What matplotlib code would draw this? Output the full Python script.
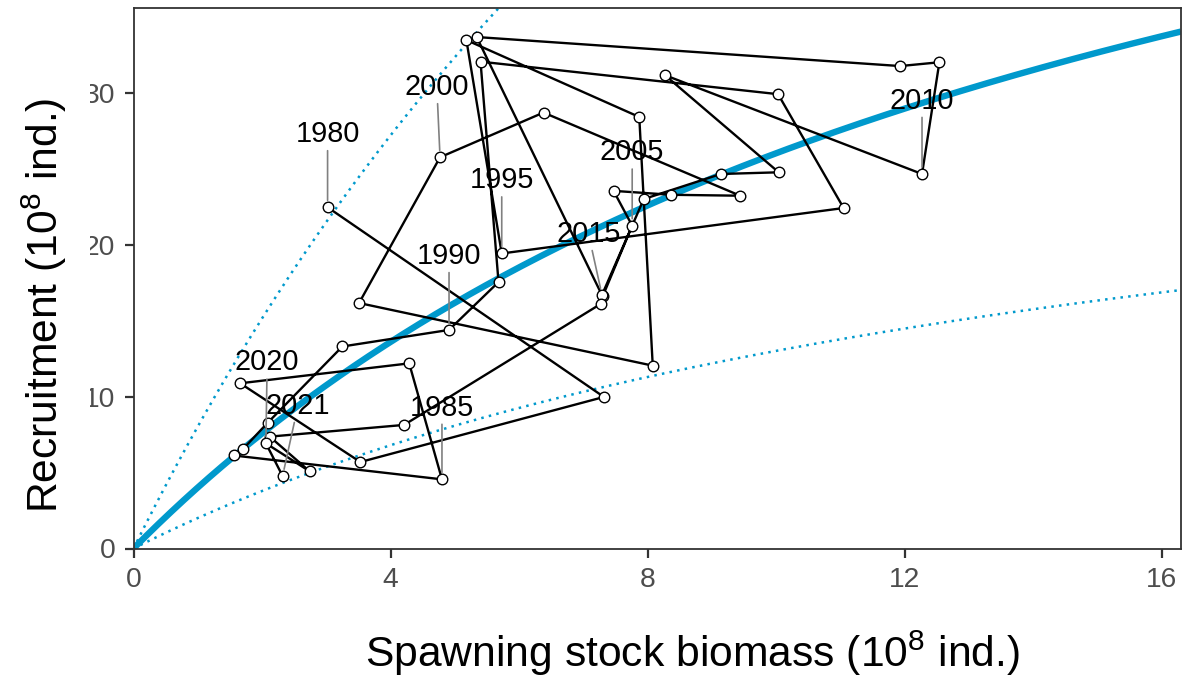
import numpy as np
import matplotlib
matplotlib.use("Agg")
import matplotlib.pyplot as plt
from matplotlib.transforms import Bbox, TransformedBbox

# ---------------- data ----------------
years = list(range(1980, 2022))
ssb = [3.02, 7.32, 3.53, 1.66, 4.29, 4.80, 1.56, 1.71, 2.09, 3.25,
       4.91, 5.68, 5.40, 10.03, 11.05, 5.73, 5.18, 7.87, 8.08, 3.51,
       4.77, 6.38, 9.44, 8.37, 7.47, 7.76, 7.30, 5.34, 11.93, 12.54,
       12.27, 8.27, 10.04, 9.14, 7.94, 7.29, 7.27, 4.21, 2.12, 2.74,
       2.06, 2.32]
rec = [22.45, 9.97, 5.69, 10.87, 12.18, 4.55, 6.12, 6.57, 8.28, 13.29,
       14.38, 17.53, 32.03, 29.89, 22.40, 19.41, 33.45, 28.39, 12.03, 16.15,
       25.74, 28.68, 23.21, 23.27, 23.53, 21.24, 16.58, 33.65, 31.74, 31.99,
       24.64, 31.14, 24.75, 24.64, 22.99, 16.68, 16.09, 8.13, 7.36, 5.08,
       6.92, 4.77]
label_years = [1980, 1985, 1990, 1995, 2000, 2005, 2010, 2015, 2020, 2021]

# fitted Beverton-Holt stock-recruitment curve and its band multipliers
bh_a = 4.27
bh_b = 0.0642
band_lo = 0.5
band_hi = 2.0

x_ticks = [0, 4, 8, 12, 16]
y_ticks = [0, 10, 20, 30]
x_title = r"Spawning stock biomass ($\mathregular{10^{8}}$ ind.)"
y_title = r"Recruitment ($\mathregular{10^{8}}$ ind.)"

# label placement (offset of label baseline from the point, data units)
label_offsets = {1980: (0.0, 4.3), 1985: (0.0, 4.2), 1990: (0.0, 4.35),
                 1995: (0.0, 4.3), 2000: (-0.05, 4.1), 2005: (0.0, 4.3),
                 2010: (0.0, 4.3), 2015: (-0.21, 3.5), 2020: (0.02, 4.8),
                 2021: (0.24, 4.1)}

# ---------------- style ----------------
plt.rcParams["font.family"] = ["Liberation Sans", "DejaVu Sans"]
plt.rcParams["mathtext.fontset"] = "custom"
plt.rcParams["mathtext.rm"] = "Liberation Sans"
plt.rcParams["mathtext.it"] = "Liberation Sans:italic"
plt.rcParams["mathtext.bf"] = "Liberation Sans:bold"

W, H = 1189, 679
fig = plt.figure(figsize=(W / 100, H / 100), dpi=100)
ax = fig.add_axes([133.5 / W, (H - 548.5) / H, 1047.5 / W, 540.2 / H])

xmax, ymax = 16.30, 35.54
s = np.linspace(0, xmax, 500)
bh = bh_a * s / (1 + bh_b * s)
blue = "#0099CC"
ax.plot(s, bh, color=blue, lw=4.6, zorder=2, solid_capstyle="butt")
ax.plot(s, band_hi * bh, color=blue, lw=1.8, ls=(0, (1, 2.1)), zorder=2)
ax.plot(s, band_lo * bh, color=blue, lw=1.8, ls=(0, (1, 2.1)), zorder=2)

ax.plot(ssb, rec, color="black", lw=1.7, zorder=3)
ax.plot(ssb, rec, "o", ms=7.6, mfc="white", mec="black", mew=1.0, zorder=5)

for yr in label_years:
    i = years.index(yr)
    dx, dy = label_offsets[yr]
    ax.annotate(str(yr), xy=(ssb[i], rec[i]), xytext=(ssb[i] + dx, rec[i] + dy),
                textcoords="data", ha="center", va="baseline", fontsize=20.8,
                color="black", zorder=6,
                arrowprops=dict(arrowstyle="-", color="#808080", lw=1.2,
                                shrinkA=0, shrinkB=5))

ax.set_xlim(0, xmax)
ax.set_ylim(0, ymax)
ax.set_xticks(x_ticks)
ax.set_yticks(y_ticks)
ax.tick_params(axis="both", length=6.5, width=1.6, color="#333333",
               labelsize=20.3, labelcolor="#4D4D4D", pad=6.5)
for sp in ax.spines.values():
    sp.set_color("#333333")
    sp.set_linewidth(1.3)

fig.text(692 / W, (H - 667) / H, x_title, ha="center", va="baseline",
         fontsize=30.7, color="black")
fig.text(58 / W, (H - 305) / H, y_title, ha="center", va="baseline",
         rotation=90, rotation_mode="anchor", fontsize=30.7, color="black")

# the left edge of the y tick labels is cut off in the reference
clip = TransformedBbox(Bbox([[90 / W, 0], [1, 1]]), fig.transFigure)
for lab in ax.get_yticklabels():
    lab.set_clip_box(clip)
    lab.set_clip_on(True)

fig.savefig("out.png", dpi=100)
